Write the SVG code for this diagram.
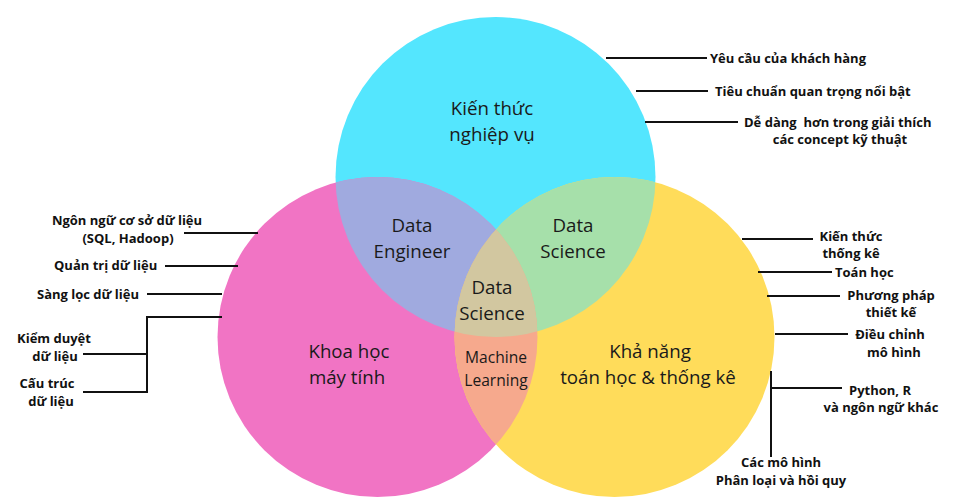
<svg xmlns="http://www.w3.org/2000/svg" width="960" height="500" viewBox="0 0 960 500">
<defs>
<style>
.main{font-family:"Open Sans","Noto Sans",sans-serif;font-size:18.7px;fill:#1a1a1a;text-anchor:middle}
.ml{font-family:"Open Sans","Noto Sans",sans-serif;font-size:15.6px;fill:#1a1a1a;text-anchor:middle}
.lb{font-family:"Open Sans","Noto Sans",sans-serif;font-size:13px;font-weight:bold;fill:#111}
.c{text-anchor:middle}
.ln{stroke:#111;stroke-width:2;fill:none}
</style>
<clipPath id="clipA"><circle cx="495.5" cy="177" r="160"/></clipPath>
<clipPath id="clipB"><circle cx="377.5" cy="337" r="160"/></clipPath>
</defs>
<rect width="960" height="500" fill="#fff"/>
<g id="circle-business">
<circle cx="495.5" cy="177" r="160" fill="#54E6FE"/>
</g>
<g id="circle-cs">
<circle cx="377.5" cy="337" r="160" fill="#F174C4"/>
</g>
<g id="circle-math">
<circle cx="614.5" cy="337" r="160" fill="#FFDC5A"/>
</g>
<g id="overlap-data-engineer">
<circle cx="377.5" cy="337" r="160" fill="#A0AADF" clip-path="url(#clipA)"/>
</g>
<g id="overlap-data-science">
<circle cx="614.5" cy="337" r="160" fill="#A6E0AA" clip-path="url(#clipA)"/>
</g>
<g id="overlap-ml">
<circle cx="614.5" cy="337" r="160" fill="#F6A98D" clip-path="url(#clipB)"/>
</g>
<g id="overlap-center">
<g clip-path="url(#clipA)">
<circle cx="614.5" cy="337" r="160" fill="#D2C7A0" clip-path="url(#clipB)"/>
</g>
</g>
<g id="labels-main">
<text class="main" x="492" y="115">Kiến thức</text>
<text class="main" x="492" y="141">nghiệp vụ</text>
<text class="main" x="412" y="232">Data</text>
<text class="main" x="412" y="258">Engineer</text>
<text class="main" x="573" y="232">Data</text>
<text class="main" x="573" y="258">Science</text>
<text class="main" x="492" y="294">Data</text>
<text class="main" x="492" y="320">Science</text>
<text class="ml" x="496" y="363">Machine</text>
<text class="ml" x="496" y="386">Learning</text>
<text class="main" x="349" y="358">Khoa học</text>
<text class="main" x="347" y="384">máy tính</text>
<text class="main" x="650" y="358">Khả năng</text>
<text class="main" x="648" y="384">toán học &amp; thống kê</text>
</g>
<g id="connectors">
<path class="ln" d="M606 58H707"/>
<path class="ln" d="M636 91H708"/>
<path class="ln" d="M645 122H738"/>
<path class="ln" d="M184 233H258"/>
<path class="ln" d="M165 266H238"/>
<path class="ln" d="M147 294H222"/>
<path class="ln" d="M222 317H147V392H83M147 354H83"/>
<path class="ln" d="M742 239H813"/>
<path class="ln" d="M758 272H832"/>
<path class="ln" d="M767 296H840"/>
<path class="ln" d="M775 334H848"/>
<path class="ln" d="M771 371V457M771 388H842"/>
</g>
<g id="labels-side">
<text class="lb" x="710" y="63">Yêu cầu của khách hàng</text>
<text class="lb" x="715" y="96">Tiêu chuẩn quan trọng nổi bật</text>
<text class="lb" x="744" y="127" xml:space="preserve">Dễ dàng  hơn trong giải thích</text>
<text class="lb c" x="840" y="144">các concept kỹ thuật</text>
<text class="lb c" x="127" y="225">Ngôn ngữ cơ sở dữ liệu</text>
<text class="lb c" x="128" y="243">(SQL, Hadoop)</text>
<text class="lb" x="54" y="270">Quản trị dữ liệu</text>
<text class="lb" x="37" y="299">Sàng lọc dữ liệu</text>
<text class="lb c" x="54" y="343">Kiểm duyệt</text>
<text class="lb c" x="55" y="361">dữ liệu</text>
<text class="lb c" x="47" y="388">Cấu trúc</text>
<text class="lb c" x="51" y="406">dữ liệu</text>
<text class="lb c" x="851" y="241">Kiến thức</text>
<text class="lb c" x="851" y="258">thống kê</text>
<text class="lb" x="835" y="277">Toán học</text>
<text class="lb c" x="891" y="300">Phương pháp</text>
<text class="lb c" x="891" y="317">thiết kế</text>
<text class="lb c" x="890" y="339">Điều chỉnh</text>
<text class="lb c" x="894" y="357">mô hình</text>
<text class="lb c" x="880" y="395">Python, R</text>
<text class="lb c" x="881" y="412">và ngôn ngữ khác</text>
<text class="lb c" x="781" y="467">Các mô hình</text>
<text class="lb c" x="781" y="485">Phân loại và hồi quy</text>
</g>
</svg>
